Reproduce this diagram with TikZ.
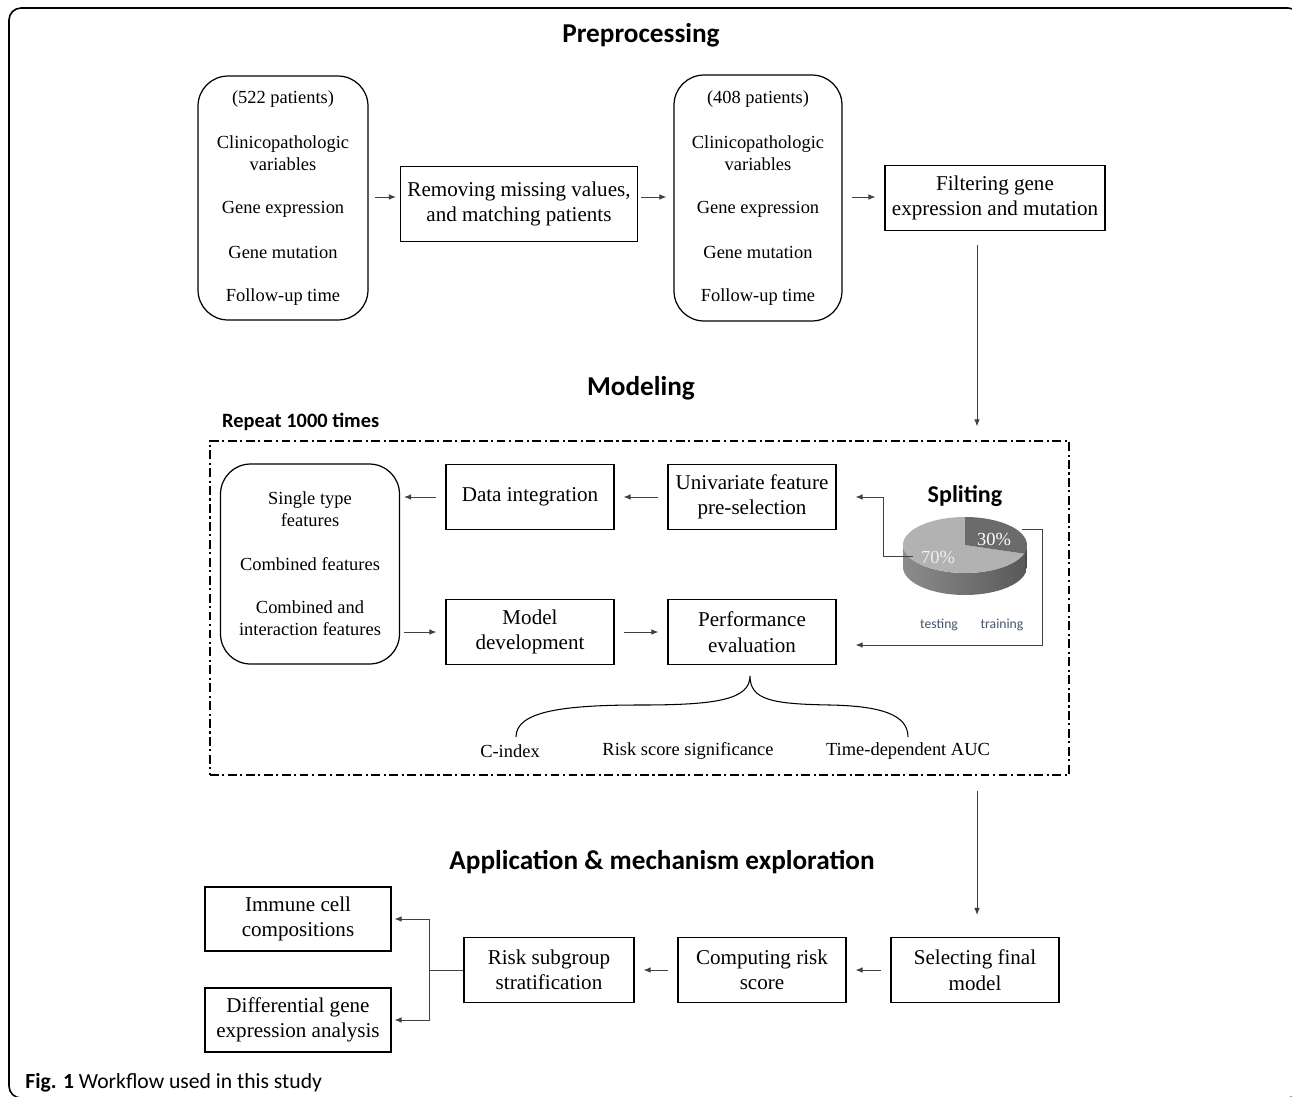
\documentclass[tikz,border=0pt]{standalone}
\usepackage{fontspec}
\setmainfont{Liberation Serif}
\newfontfamily\headfont{Carlito}
\usetikzlibrary{arrows.meta}
\colorlet{linegray}{black!75}
\colorlet{pielight}{black!30}
\colorlet{piedark}{black!58}
\definecolor{slate}{HTML}{44546A}

\begin{document}
\begin{tikzpicture}[x=0.02cm,y=-0.02cm,
    box/.style={draw,line width=0.7pt,align=center,inner sep=0pt,
        minimum width=3.36cm,minimum height=1.3cm,font=\fontsize{12}{14.5}\selectfont},
    roundbox/.style={box,rounded corners=0.6cm,font=\fontsize{10.5}{12.5}\selectfont},
    arr/.style={-{Latex[length=4pt,width=3.2pt]},linegray,line width=0.5pt,
        shorten <=0.18cm,shorten >=0.18cm},
    head/.style={font=\headfont\bfseries\fontsize{15.5}{18}\selectfont}]
    \useasboundingbox (0,0) rectangle (1292,1096);
    \draw[line width=0.9pt,rounded corners=0.24cm] (9,1098) rectangle (1300,8);

    % preprocessing
    \node[head] (tpre) at (641,35) {Preprocessing};
    \node[roundbox,minimum width=3.4cm,minimum height=4.88cm] (raw) at (283,198)
        {(522 patients)\\[0.46cm] Clinicopathologic\\ variables\\[0.42cm] Gene expression\\[0.46cm]
         Gene mutation\\[0.42cm] Follow-up time};
    \node[box,minimum width=4.74cm,minimum height=1.5cm] (clean) at (519,204)
        {Removing missing values,\\ and matching patients};
    \node[roundbox,minimum width=3.36cm,minimum height=4.92cm] (matched) at (758,198)
        {(408 patients)\\[0.46cm] Clinicopathologic\\ variables\\[0.42cm] Gene expression\\[0.46cm]
         Gene mutation\\[0.42cm] Follow-up time};
    \node[box,minimum width=4.4cm] (filter) at (995,198) {Filtering gene\\ expression and mutation};
    \draw[arr,shorten <=0.12cm,shorten >=0.08cm] (raw.east |- 0,197) -- (clean.west |- 0,197);
    \draw[arr,shorten <=0.06cm,shorten >=0.14cm] (clean.east |- 0,197) -- (matched.west |- 0,197);
    \draw[arr] (matched.east |- 0,197) -- (filter.west |- 0,197);

    % modeling
    \node[head] (tmod) at (641,388) {Modeling};
    \node[anchor=west,font=\headfont\bfseries\fontsize{11.6}{14}\selectfont] (repeat) at (216,422) {Repeat 1000 times};
    \node[draw,line width=0.8pt,dash pattern=on 5pt off 2pt on 1.2pt off 2pt,
        minimum width=17.18cm,minimum height=6.68cm] (loop) at (639.5,608) {};
    \draw[arr,shorten <=0.28cm,shorten >=0.28cm] (977,0 |- filter.south) -- (977,0 |- loop.north);

    \node[roundbox,minimum width=3.58cm,minimum height=4cm] (feat) at (310,564)
        {Single type\\ features\\[0.44cm] Combined features\\[0.42cm] Combined and\\ interaction features};
    \node[box] (integ) at (530,497) {Data integration};
    \node[box] (unisel) at (752,497) {Univariate feature\\ pre-selection};
    \node[box] (modeldev) at (530,632) {Model\\ development};
    \node[box] (perf) at (752,632) {Performance\\ evaluation};
    \draw[arr] (unisel) -- (integ);
    \draw[arr,shorten >=0.08cm] (integ.west) -- (integ.west -| feat.east);
    \draw[arr,shorten <=0.08cm] (modeldev.west -| feat.east) -- (modeldev.west);
    \draw[arr] (modeldev) -- (perf);

    % splitting pie
    \node[font=\headfont\bfseries\fontsize{13.7}{16}\selectfont] (split) at (965,496) {Spliting};
    \begin{scope}[shift={(965,545)}]
        \shade[left color=black!45,right color=black!65] (180:1.24cm and 0.56cm) -- ++(0,-0.44cm)
            arc[start angle=180,end angle=342,x radius=1.24cm,y radius=0.56cm] -- ++(0,0.44cm)
            arc[start angle=342,end angle=180,x radius=1.24cm,y radius=0.56cm] -- cycle;
        \shade[left color=black!65,right color=black!75] (342:1.24cm and 0.56cm) -- ++(0,-0.44cm)
            arc[start angle=342,end angle=360,x radius=1.24cm,y radius=0.56cm] -- ++(0,0.44cm)
            arc[start angle=360,end angle=342,x radius=1.24cm,y radius=0.56cm] -- cycle;
        \fill[pielight] (0,0) -- (90:1.24cm and 0.56cm)
            arc[start angle=90,end angle=342,x radius=1.24cm,y radius=0.56cm] -- cycle;
        \fill[piedark] (0,0) -- (90:1.24cm and 0.56cm)
            arc[start angle=90,end angle=-18,x radius=1.24cm,y radius=0.56cm] -- cycle;
    \end{scope}
    \node[text=black!6,font=\fontsize{10.5}{12.5}\selectfont] (p70) at (938,557) {70\%};
    \node[text=white,font=\fontsize{10.5}{12.5}\selectfont] (p30) at (994,539) {30\%};
    \node[text=slate,font=\headfont\fontsize{7.8}{9}\selectfont] (ltest) at (939,625) {testing};
    \node[text=slate,font=\headfont\fontsize{7.8}{9}\selectfont] (ltrain) at (1002,625) {training};
    \coordinate (o70) at (913,556);
    \coordinate (o30) at (1022,529);
    \draw[arr,shorten <=0pt,shorten >=0.38cm] (o70) -- (883,556) -- (883,0 |- unisel.east) -- (unisel.east);
    \draw[arr,shorten <=0pt,shorten >=0.38cm] (o30) -- (1042,529) -- (1042,645) -- (perf.east |- 0,645);

    % metrics brace
    \coordinate (btip) at (750,676);
    \draw[line width=0.6pt] (516,737) .. controls (516,712) and (560,705) .. (640,705)
        .. controls (715,705) and (750,700) .. (btip)
        .. controls (750,700) and (772,704) .. (830,705)
        .. controls (882,706) and (908,715) .. (908,737);
    \node[font=\fontsize{10.5}{12.5}\selectfont] (cidx) at (510,751) {C-index};
    \node[font=\fontsize{10.5}{12.5}\selectfont] (rsig) at (688,751) {Risk score significance};
    \node[font=\fontsize{10.5}{12.5}\selectfont] (tauc) at (908,751) {Time-dependent AUC};

    % application
    \node[head] (tapp) at (662,862) {Application \& mechanism exploration};
    \node[box] (final) at (975,970) {Selecting final\\ model};
    \node[box] (riskscore) at (762,970) {Computing risk\\ score};
    \node[box,minimum width=3.4cm] (strat) at (549,970) {Risk subgroup\\ stratification};
    \node[box,minimum width=3.72cm,minimum height=1.28cm] (immune) at (298,919) {Immune cell\\ compositions};
    \node[box,minimum width=3.72cm,minimum height=1.28cm] (deg) at (298,1020) {Differential gene\\ expression analysis};
    \draw[arr,shorten <=0.3cm,shorten >=0.44cm] (977,0 |- loop.south) -- (977,0 |- final.north);
    \draw[arr] (final) -- (riskscore);
    \draw[arr] (riskscore) -- (strat);
    \coordinate (fork) at (429,970);
    \draw[linegray,line width=0.5pt] (strat.west) -- (fork);
    \draw[arr,shorten <=0pt,shorten >=0.06cm] (fork) |- (immune.east);
    \draw[arr,shorten <=0pt,shorten >=0.06cm] (fork) |- (deg.east);

    \node[anchor=base west,inner sep=0pt,font=\headfont\fontsize{12.3}{14}\selectfont] (cap) at (25,1088)
        {\textbf{Fig. 1} Workflow used in this study};
\end{tikzpicture}
\end{document}
